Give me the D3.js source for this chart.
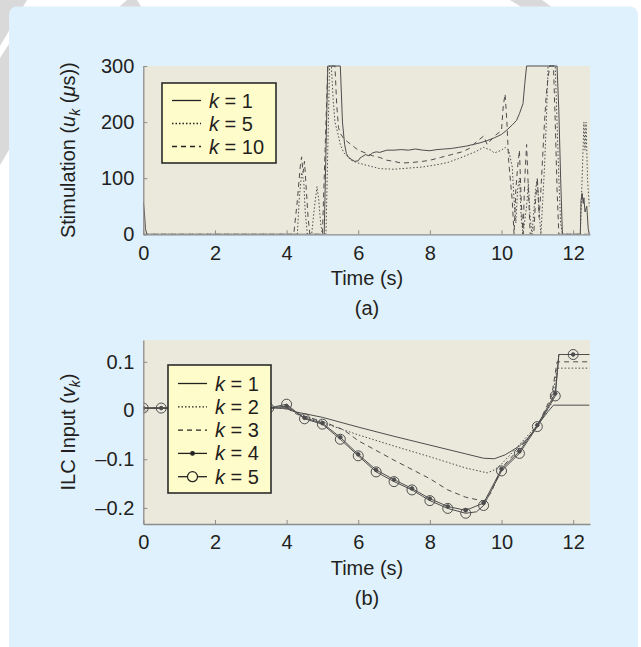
<!DOCTYPE html>
<html><head><meta charset="utf-8">
<script src="https://cdn.jsdelivr.net/npm/d3@7"></script>
<style>
html,body{margin:0;padding:0;background:#fff;}
svg{display:block;font-family:"Liberation Sans",Arial,Helvetica,sans-serif;}
</style></head><body>
<svg id="chart" width="641" height="647"></svg>
<script>
// ---------- (a) stimulation, [time s, pulse width µs] ----------
const stimK1 = [[0,58],[0.03,40],[0.06,10],[0.1,0],[5.05,0],[5.1,150],[5.15,300],[5.5,300],[5.56,200],[5.62,160],[5.67,144],[5.72,138],[5.8,134],[5.9,130],[6.0,131],[6.05,136],[6.1,138],[6.2,142],[6.3,140],[6.4,145],[6.5,147],[6.6,146],[6.8,150],[7.0,150],[7.2,151],[7.4,150],[7.6,152],[7.8,150],[8.0,149],[8.2,151],[8.4,152],[8.6,153],[8.8,155],[9.0,157],[9.2,160],[9.4,163],[9.6,167],[9.8,172],[10.0,178],[10.15,186],[10.3,195],[10.42,203],[10.5,215],[10.6,233],[10.65,269],[10.7,300],[11.55,300],[11.6,220],[11.65,100],[11.7,0],[12.2,0],[12.22,60],[12.25,73],[12.28,55],[12.3,65],[12.33,40],[12.38,50],[12.42,10],[12.45,0]];
const stimK5 = [[0,0],[4.3,0],[4.35,60],[4.42,110],[4.48,95],[4.52,40],[4.58,0],[4.7,0],[4.78,50],[4.85,85],[4.9,60],[4.95,20],[5.0,0],[5.1,0],[5.15,150],[5.2,300],[5.25,300],[5.3,240],[5.35,200],[5.45,175],[5.5,160],[5.6,145],[5.8,132],[6.0,127],[6.3,122],[6.6,117],[7.0,116],[7.4,118],[7.8,120],[8.2,124],[8.5,128],[8.8,135],[9.0,140],[9.3,148],[9.5,155],[9.7,150],[9.8,145],[10.0,150],[10.1,155],[10.2,150],[10.3,120],[10.35,60],[10.4,20],[10.45,80],[10.5,100],[10.55,30],[10.6,0],[10.7,50],[10.75,90],[10.8,30],[10.85,0],[10.95,80],[11.0,100],[11.05,40],[11.1,0],[11.15,60],[11.2,120],[11.25,200],[11.3,300],[11.5,300],[11.55,200],[11.6,100],[11.65,20],[11.7,0],[12.2,0],[12.25,100],[12.3,200],[12.33,150],[12.36,200],[12.4,100],[12.45,50]];
const stimK10 = [[0,0],[4.2,0],[4.3,60],[4.38,120],[4.42,138],[4.46,110],[4.5,130],[4.55,80],[4.6,30],[4.65,0],[5.0,0],[5.05,100],[5.1,200],[5.15,300],[5.35,300],[5.4,230],[5.45,190],[5.5,180],[5.55,175],[5.6,170],[5.7,165],[5.8,160],[5.9,155],[6.0,150],[6.2,145],[6.4,140],[6.6,137],[6.8,132],[7.0,130],[7.2,127],[7.5,128],[7.8,130],[8.0,132],[8.3,137],[8.6,142],[8.9,147],[9.1,153],[9.3,165],[9.5,175],[9.6,160],[9.8,175],[10.0,185],[10.05,230],[10.1,250],[10.15,200],[10.2,130],[10.3,60],[10.35,0],[10.4,80],[10.45,120],[10.5,150],[10.55,60],[10.6,0],[10.65,100],[10.7,160],[10.75,80],[10.8,0],[10.9,0],[10.95,60],[11.0,100],[11.05,30],[11.1,80],[11.15,140],[11.2,200],[11.25,250],[11.3,280],[11.35,300],[11.45,300],[11.5,200],[11.55,80],[11.6,0],[12.45,0]];
const stimLegend = ["1","5","10"];
const stimTicksY = [0,100,200,300];

// ---------- (b) ILC input, [time s, input] ----------
const ilcK1 = [[0,0.005],[4.0,0.005],[4.2,-0.002],[5.0,-0.014],[6.0,-0.034],[7.0,-0.053],[8.0,-0.071],[9.0,-0.089],[9.5,-0.098],[9.8,-0.099],[10.1,-0.091],[10.5,-0.073],[10.8,-0.052],[11.05,-0.026],[11.3,-0.002],[11.45,0.011],[12.45,0.011]];
const ilcK2 = [[0,0.005],[4.0,0.005],[4.3,-0.005],[5.0,-0.025],[6.0,-0.05],[7.0,-0.073],[8.0,-0.095],[9.0,-0.118],[9.6,-0.128],[9.8,-0.122],[10.0,-0.11],[10.5,-0.07],[11.0,-0.03],[11.4,0.015],[11.55,0.087],[12.45,0.087]];
const ilcK3 = [[0,0.005],[4.0,0.005],[4.3,-0.008],[5.0,-0.022],[5.6,-0.04],[6.0,-0.062],[7.0,-0.102],[8.0,-0.14],[8.5,-0.163],[9.0,-0.178],[9.5,-0.186],[9.7,-0.17],[10.0,-0.118],[10.5,-0.078],[11.0,-0.032],[11.4,0.03],[11.55,0.10],[12.45,0.10]];
const ilcK4 = [[0,0.005],[0.5,0.005],[1,0.005],[1.5,0.005],[2,0.005],[2.5,0.005],[3,0.005],[3.5,0.005],[4.0,0.009],[4.5,-0.015],[5.0,-0.026],[5.5,-0.055],[6.0,-0.09],[6.5,-0.122],[7.0,-0.142],[7.5,-0.16],[8.0,-0.181],[8.5,-0.197],[9.0,-0.205],[9.5,-0.19],[10.0,-0.12],[10.5,-0.084],[11.0,-0.03],[11.5,0.035],[11.6,0.115],[12.0,0.115],[12.45,0.115]];
const ilcK5 = [[0,0.005],[0.5,0.005],[1,0.005],[1.5,0.005],[2,0.005],[2.5,0.005],[3,0.005],[3.5,0.005],[4.0,0.013],[4.5,-0.017],[5.0,-0.028],[5.5,-0.059],[6.0,-0.093],[6.5,-0.126],[7.0,-0.146],[7.5,-0.163],[8.0,-0.185],[8.5,-0.201],[9.0,-0.211],[9.3,-0.208],[9.5,-0.195],[10.0,-0.124],[10.5,-0.088],[11.0,-0.033],[11.5,0.03],[11.6,0.115],[12.0,0.115],[12.45,0.115]];
const ilcLegend = ["1","2","3","4","5"];
const ilcTicksY = [-0.2,-0.1,0,0.1];
const timeTicks = [0,2,4,6,8,10,12];

const svg = d3.select("#chart");
const INK = "#231f20", LINE = "#4d4d4d", AXIS = "#8c8c8c";

// decorative backdrop and panel
const deco = [
  [[0,0],[27,0],[0,46]],
  [[0,58],[9,44],[9,150],[0,165]],
  [[118,8],[127,0],[137,0],[142,8]],
  [[510,0],[542,0],[553,8],[523,8]]
];
svg.selectAll("polygon.deco").data(deco).join("polygon")
  .attr("points", d => d.map(p => p.join(",")).join(" "))
  .attr("fill", "#d9d9d9");
svg.append("rect").attr("x",9).attr("y",6.5).attr("width",629).attr("height",660)
  .attr("rx",8).attr("fill","#dff1fc");

const x = d3.scaleLinear().domain([0, 12.47]).range([143.3, 590]);

function panel(cfg) {
  const y = d3.scaleLinear().domain(cfg.yDomain).range([cfg.bottom, cfg.top]);
  const g = svg.append("g");
  g.append("rect").attr("x",x.range()[0]).attr("y",cfg.top)
    .attr("width",x.range()[1]-x.range()[0]).attr("height",cfg.bottom-cfg.top)
    .attr("fill","#ebe9dc");
  const clipId = "clip-" + cfg.id;
  svg.append("clipPath").attr("id", clipId).append("rect")
    .attr("x",x.range()[0]).attr("y",cfg.top-1)
    .attr("width",x.range()[1]-x.range()[0]).attr("height",cfg.bottom-cfg.top+1);

  const line = d3.line().x(d => x(d[0])).y(d => y(d[1]));
  const plot = g.append("g").attr("clip-path", `url(#${clipId})`);
  cfg.series.forEach(s => {
    plot.append("path").datum(s.data).attr("d", line)
      .attr("fill","none").attr("stroke",LINE).attr("stroke-width",1)
      .attr("stroke-dasharray", s.dash || null);
    if (s.marker) {
      const pts = s.data.filter(d => Math.abs(d[0]*2 - Math.round(d[0]*2)) < 1e-9);
      plot.selectAll(null).data(pts).join("circle")
        .attr("cx", d => x(d[0])).attr("cy", d => y(d[1]))
        .attr("r", s.marker === "o" ? 5 : 1.8)
        .attr("fill", s.marker === "o" ? "none" : LINE)
        .attr("stroke", LINE).attr("stroke-width", 1);
    }
  });

  const xa = g.append("g").attr("transform",`translate(0,${cfg.bottom})`)
    .call(d3.axisBottom(x).tickValues(timeTicks).tickSizeInner(-4).tickSizeOuter(0).tickPadding(cfg.xPad));
  const ya = g.append("g").attr("transform",`translate(${x.range()[0]},0)`)
    .call(d3.axisLeft(y).tickValues(cfg.yTicks).tickSizeInner(-4).tickSizeOuter(0).tickPadding(9)
      .tickFormat(cfg.yFormat));
  [xa, ya].forEach(a => {
    a.select(".domain").attr("stroke",AXIS).attr("stroke-width",1.3);
    a.selectAll(".tick line").attr("stroke",AXIS);
    a.selectAll(".tick text").attr("fill",INK).attr("font-size",20);
  });

  g.append("text").attr("x",367).attr("y",cfg.bottom+51).attr("text-anchor","middle")
    .attr("font-size",20).attr("fill",INK).text("Time (s)");
  g.append("text").attr("x",367).attr("y",cfg.bottom+81).attr("text-anchor","middle")
    .attr("font-size",20).attr("fill",INK).text(cfg.tag);

  // y label
  const yl = g.append("text").attr("transform",`translate(75,${(cfg.top+cfg.bottom)/2}) rotate(-90)`)
    .attr("text-anchor","middle").attr("font-size",20).attr("fill",INK);
  cfg.yLabel(yl);

  // legend
  const L = cfg.legend;
  const lg = g.append("g");
  lg.append("rect").attr("x",L.x).attr("y",L.y).attr("width",L.w).attr("height",L.h)
    .attr("fill","#fffccb").attr("stroke","#2b2b2b").attr("stroke-width",1.6);
  cfg.series.forEach((s,i) => {
    const yy = L.y + L.first + i*L.step;
    lg.append("line").attr("x1",L.x+10).attr("x2",L.x+39).attr("y1",yy).attr("y2",yy)
      .attr("stroke","#222").attr("stroke-width",1.3).attr("stroke-dasharray", s.dash || null);
    if (s.marker) {
      lg.append("circle").attr("cx",L.x+24.5).attr("cy",yy)
        .attr("r", s.marker === "o" ? 5 : 1.8)
        .attr("fill", s.marker === "o" ? "#fffccb" : "#222").attr("stroke","#222").attr("stroke-width",1.2);
    }
    const t = lg.append("text").attr("x",L.x+47).attr("y",yy+7).attr("font-size",20).attr("fill",INK);
    t.append("tspan").attr("font-style","italic").text("k");
    t.append("tspan").text(" = " + L.labels[i]);
  });
}

panel({
  id:"a", top:66, bottom:234.3, yDomain:[0,300], yTicks:stimTicksY, xPad:12, tag:"(a)",
  yFormat: d => d,
  series:[{data:stimK1},{data:stimK5,dash:"1.5,2"},{data:stimK10,dash:"5,4"}],
  yLabel: t => {
    t.append("tspan").text("Stimulation (");
    t.append("tspan").attr("font-style","italic").text("u");
    t.append("tspan").attr("font-style","italic").attr("font-size",14).attr("dy",5).text("k");
    t.append("tspan").attr("dy",-5).text(" (");
    t.append("tspan").attr("font-style","italic").text("\u03bc");
    t.append("tspan").text("s))");
  },
  legend:{x:162,y:83,w:114,h:80,first:17.5,step:23,labels:stimLegend}
});

panel({
  id:"b", top:340, bottom:524, yDomain:[-0.233,0.1448], yTicks:ilcTicksY, xPad:11, tag:"(b)",
  yFormat: d => d < 0 ? "\u2013" + Math.abs(d) : d,
  series:[{data:ilcK1},{data:ilcK2,dash:"1.5,2"},{data:ilcK3,dash:"5,4"},{data:ilcK4,marker:"."},{data:ilcK5,marker:"o"}],
  yLabel: t => {
    t.append("tspan").text("ILC Input (");
    t.append("tspan").attr("font-style","italic").text("v");
    t.append("tspan").attr("font-style","italic").attr("font-size",14).attr("dy",5).text("k");
    t.append("tspan").attr("dy",-5).text(")");
  },
  legend:{x:168,y:365,w:103,h:128,first:18.5,step:23.3,labels:ilcLegend}
});
</script></body></html>
